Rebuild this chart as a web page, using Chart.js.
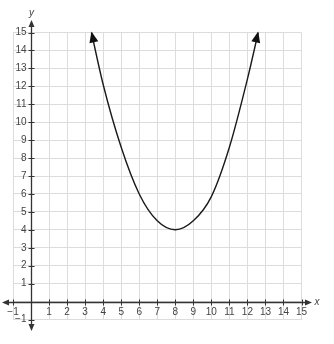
<!DOCTYPE html>
<html>
<head>
<meta charset="utf-8">
<script src="https://cdn.jsdelivr.net/npm/chart.js@4.4.1/dist/chart.umd.min.js"></script>
<style>
  html, body { margin: 0; padding: 0; background: #fff; }
  #wrap { width: 334px; height: 344px; position: relative; }
</style>
</head>
<body>
<div id="wrap"><canvas id="graph"></canvas></div>
<script>
// values
const curveX = [3.35, 4, 5, 6, 7, 8, 9, 10, 11, 12, 12.6];
const curveY = [15, 12.1, 8.6, 6, 4.5, 4, 4.5, 5.85, 8.6, 12.4, 15];

const xTickValues = [-1, 1, 2, 3, 4, 5, 6, 7, 8, 9, 10, 11, 12, 13, 14, 15];
const xTickLabels = ['\u22121', '1', '2', '3', '4', '5', '6', '7', '8', '9', '10', '11', '12', '13', '14', '15'];
const yTickValues = [-1, 1, 2, 3, 4, 5, 6, 7, 8, 9, 10, 11, 12, 13, 14, 15];
const yTickLabels = ['\u22121', '1', '2', '3', '4', '5', '6', '7', '8', '9', '10', '11', '12', '13', '14', '15'];

const AXIS = '#333';
const LABEL = '#444';
const FONT = '10px "Liberation Sans", Arial, sans-serif';

function arrowHead(ctx, tipX, tipY, angle, len, half) {
    ctx.save();
    ctx.translate(tipX, tipY);
    ctx.rotate(angle);
    ctx.beginPath();
    ctx.moveTo(0, 0);
    ctx.lineTo(-len, -half);
    ctx.lineTo(-len, half);
    ctx.closePath();
    ctx.fill();
    ctx.restore();
}

// axes through the origin, with tick marks, labels and arrows
const axesPlugin = {
    id: 'axes',
    beforeDatasetsDraw(chart) {
        const ctx = chart.ctx;
        const sx = chart.scales.x, sy = chart.scales.y;
        const x0 = Math.round(sx.getPixelForValue(0)) + 0.5;
        const y0 = Math.round(sy.getPixelForValue(0)) + 0.5;
        ctx.save();
        ctx.strokeStyle = AXIS;
        ctx.fillStyle = AXIS;
        ctx.lineWidth = 1.3;

        ctx.beginPath();
        ctx.moveTo(5, y0); ctx.lineTo(308, y0);
        ctx.moveTo(x0, 25); ctx.lineTo(x0, 326);
        ctx.stroke();

        ctx.lineWidth = 1;
        ctx.beginPath();
        xTickValues.forEach(v => {
            const px = Math.round(sx.getPixelForValue(v)) + 0.5;
            ctx.moveTo(px, y0 - 3); ctx.lineTo(px, y0 + 3);
        });
        yTickValues.forEach(v => {
            const py = Math.round(sy.getPixelForValue(v)) + 0.5;
            ctx.moveTo(x0 - 3, py); ctx.lineTo(x0 + 3, py);
        });
        ctx.stroke();

        arrowHead(ctx, 2, y0, Math.PI, 7, 3);
        arrowHead(ctx, 312, y0, 0, 7, 3);
        arrowHead(ctx, x0, 20, -Math.PI / 2, 7, 3);
        arrowHead(ctx, x0, 331, Math.PI / 2, 7, 3);

        ctx.font = FONT;
        ctx.fillStyle = LABEL;
        ctx.textAlign = 'center';
        ctx.textBaseline = 'middle';
        xTickValues.forEach((v, i) => {
            ctx.fillText(xTickLabels[i], sx.getPixelForValue(v), y0 + 10);
        });
        ctx.textAlign = 'right';
        yTickValues.forEach((v, i) => {
            ctx.fillText(yTickLabels[i], x0 - 5, sy.getPixelForValue(v));
        });

        ctx.font = 'italic 10px "Liberation Sans", Arial, sans-serif';
        ctx.textAlign = 'center';
        ctx.fillText('x', 317, y0);
        ctx.fillText('y', x0, 13);
        ctx.restore();
    },
    afterDatasetsDraw(chart) {
        // arrowheads at both ends of the curve
        const pts = chart.getDatasetMeta(0).data;
        const n = pts.length;
        const ctx = chart.ctx;
        ctx.save();
        ctx.fillStyle = '#111';
        const a1 = Math.atan2(pts[0].y - pts[1].y, pts[0].x - pts[1].x);
        arrowHead(ctx, pts[0].x, pts[0].y - 1, a1, 11, 4.5);
        const a2 = Math.atan2(pts[n - 1].y - pts[n - 2].y, pts[n - 1].x - pts[n - 2].x);
        arrowHead(ctx, pts[n - 1].x, pts[n - 1].y - 1, a2, 11, 4.5);
        ctx.restore();
    }
};

new Chart(document.getElementById('graph'), {
    type: 'scatter',
    data: {
        datasets: [{
            data: curveX.map((x, i) => ({ x: x, y: curveY[i] })),
            showLine: true,
            borderColor: '#1a1a1a',
            borderWidth: 1.4,
            pointRadius: 0,
            cubicInterpolationMode: 'monotone',
            fill: false
        }]
    },
    options: {
        responsive: true,
        maintainAspectRatio: false,
        animation: false,
        events: [],
        layout: { padding: { left: 13, right: 32.5, top: 32.5, bottom: 24.5 } },
        plugins: { legend: { display: false }, tooltip: { enabled: false } },
        scales: {
            x: {
                type: 'linear', min: -1, max: 15,
                ticks: { display: false, stepSize: 1 },
                grid: { color: '#dcdcdc', lineWidth: 1, drawTicks: false },
                border: { display: false }
            },
            y: {
                type: 'linear', min: -1, max: 15,
                ticks: { display: false, stepSize: 1 },
                grid: { color: '#dcdcdc', lineWidth: 1, drawTicks: false },
                border: { display: false }
            }
        }
    },
    plugins: [axesPlugin]
});
</script>
</body>
</html>
